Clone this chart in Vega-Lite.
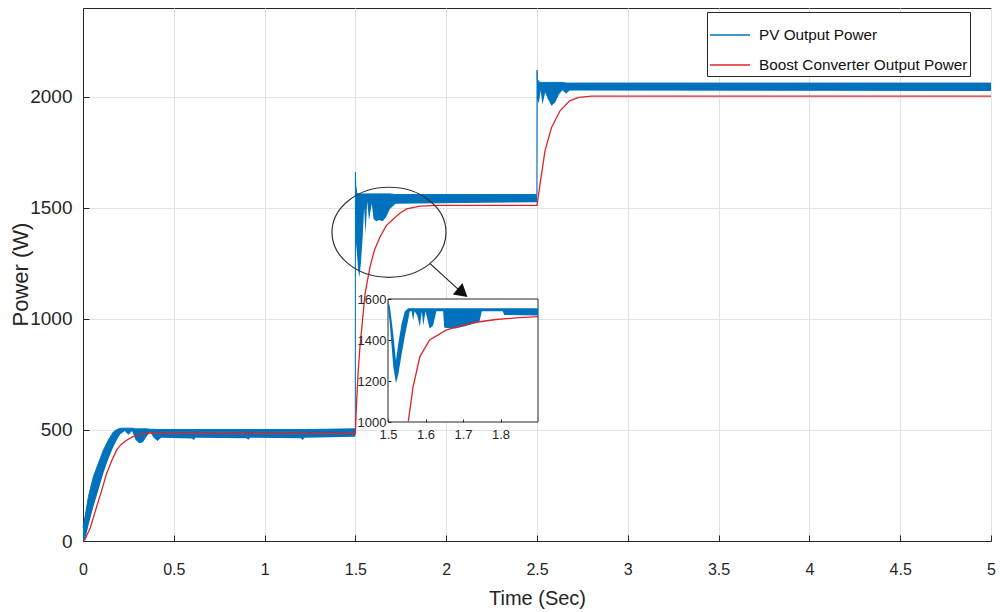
{
  "$schema": "https://vega.github.io/schema/vega-lite/v6.json",
  "width": 908,
  "height": 533,
  "autosize": "none",
  "padding": {"left": 83, "top": 8, "right": 9, "bottom": 71},
  "background": "white",
  "config": {
    "font": "Liberation Sans",
    "view": {"stroke": "#262626", "strokeWidth": 1},
    "axis": {
      "domainColor": "#262626",
      "tickColor": "#262626",
      "labelColor": "#262626",
      "titleColor": "#262626",
      "gridColor": "#e2e2e2",
      "labelFont": "Liberation Sans",
      "titleFont": "Liberation Sans",
      "titleFontWeight": "normal",
      "labelFlush": false
    }
  },
  "datasets": {
    "pv": [
      {"t": 0, "lo": 0, "hi": 60},
      {"t": 0.011, "lo": 5, "hi": 108},
      {"t": 0.03, "lo": 70, "hi": 200},
      {"t": 0.057, "lo": 154, "hi": 289},
      {"t": 0.085, "lo": 230, "hi": 350},
      {"t": 0.112, "lo": 305, "hi": 409},
      {"t": 0.14, "lo": 370, "hi": 455},
      {"t": 0.167, "lo": 424, "hi": 491},
      {"t": 0.19, "lo": 460, "hi": 503},
      {"t": 0.204, "lo": 480, "hi": 507},
      {"t": 0.23, "lo": 495, "hi": 508},
      {"t": 0.25, "lo": 478, "hi": 508},
      {"t": 0.27, "lo": 495, "hi": 508},
      {"t": 0.29, "lo": 455, "hi": 505},
      {"t": 0.31, "lo": 440, "hi": 505},
      {"t": 0.33, "lo": 445, "hi": 505},
      {"t": 0.35, "lo": 470, "hi": 505},
      {"t": 0.37, "lo": 490, "hi": 503},
      {"t": 0.39, "lo": 465, "hi": 503},
      {"t": 0.41, "lo": 450, "hi": 502},
      {"t": 0.43, "lo": 465, "hi": 502},
      {"t": 0.6, "lo": 462, "hi": 502},
      {"t": 0.61, "lo": 455, "hi": 502},
      {"t": 0.62, "lo": 465, "hi": 502},
      {"t": 0.9, "lo": 463, "hi": 502},
      {"t": 0.91, "lo": 456, "hi": 502},
      {"t": 0.92, "lo": 465, "hi": 502},
      {"t": 1.2, "lo": 463, "hi": 502},
      {"t": 1.21, "lo": 455, "hi": 502},
      {"t": 1.22, "lo": 465, "hi": 502},
      {"t": 1.4995, "lo": 469, "hi": 505},
      {"t": 1.5, "lo": 480, "hi": 1660},
      {"t": 1.502, "lo": 1350, "hi": 1600},
      {"t": 1.508, "lo": 1300, "hi": 1565},
      {"t": 1.515, "lo": 1220, "hi": 1563},
      {"t": 1.522, "lo": 1188, "hi": 1563},
      {"t": 1.53, "lo": 1250, "hi": 1563},
      {"t": 1.54, "lo": 1368, "hi": 1563},
      {"t": 1.548, "lo": 1500, "hi": 1563},
      {"t": 1.556, "lo": 1380, "hi": 1563},
      {"t": 1.565, "lo": 1530, "hi": 1563},
      {"t": 1.575, "lo": 1443, "hi": 1563},
      {"t": 1.59, "lo": 1520, "hi": 1563},
      {"t": 1.6, "lo": 1450, "hi": 1563},
      {"t": 1.615, "lo": 1440, "hi": 1563},
      {"t": 1.63, "lo": 1445, "hi": 1563},
      {"t": 1.65, "lo": 1440, "hi": 1563},
      {"t": 1.67, "lo": 1460, "hi": 1563},
      {"t": 1.69, "lo": 1495, "hi": 1563},
      {"t": 1.72, "lo": 1519, "hi": 1560},
      {"t": 2.4995, "lo": 1525, "hi": 1560},
      {"t": 2.5, "lo": 1530, "hi": 2120},
      {"t": 2.502, "lo": 1990, "hi": 2080},
      {"t": 2.51, "lo": 1970, "hi": 2068},
      {"t": 2.52, "lo": 2030, "hi": 2065},
      {"t": 2.53, "lo": 1965, "hi": 2065},
      {"t": 2.545, "lo": 2020, "hi": 2065},
      {"t": 2.56, "lo": 1990, "hi": 2065},
      {"t": 2.58, "lo": 1960, "hi": 2065},
      {"t": 2.6, "lo": 1975, "hi": 2065},
      {"t": 2.62, "lo": 2010, "hi": 2065},
      {"t": 2.64, "lo": 2030, "hi": 2065},
      {"t": 2.66, "lo": 2015, "hi": 2062},
      {"t": 2.68, "lo": 2028, "hi": 2062},
      {"t": 5, "lo": 2026, "hi": 2062}
    ],
    "boost": [
      {"t": 0, "p": 0},
      {"t": 0.01, "p": 5},
      {"t": 0.04, "p": 60},
      {"t": 0.075, "p": 154},
      {"t": 0.1, "p": 220},
      {"t": 0.13, "p": 304},
      {"t": 0.16, "p": 365},
      {"t": 0.185, "p": 409},
      {"t": 0.21, "p": 435},
      {"t": 0.24, "p": 454},
      {"t": 0.27, "p": 468},
      {"t": 0.295, "p": 476},
      {"t": 0.33, "p": 483},
      {"t": 0.37, "p": 487},
      {"t": 0.42, "p": 484},
      {"t": 1.5, "p": 484},
      {"t": 1.505, "p": 600},
      {"t": 1.515, "p": 760},
      {"t": 1.525, "p": 873},
      {"t": 1.54, "p": 1000},
      {"t": 1.553, "p": 1113},
      {"t": 1.58, "p": 1233},
      {"t": 1.605, "p": 1310},
      {"t": 1.635, "p": 1368},
      {"t": 1.67, "p": 1420},
      {"t": 1.709, "p": 1450},
      {"t": 1.745, "p": 1476},
      {"t": 1.782, "p": 1495},
      {"t": 1.856, "p": 1508},
      {"t": 1.95, "p": 1511},
      {"t": 2.5, "p": 1511},
      {"t": 2.517, "p": 1608},
      {"t": 2.544, "p": 1757},
      {"t": 2.58, "p": 1862},
      {"t": 2.627, "p": 1937},
      {"t": 2.68, "p": 1982},
      {"t": 2.73, "p": 1998},
      {"t": 2.8, "p": 2003},
      {"t": 5, "p": 2003}
    ],
    "pvInset": [
      {"t": 1.5, "lo": 1560, "hi": 1595},
      {"t": 1.5053, "lo": 1470, "hi": 1560},
      {"t": 1.514, "lo": 1270, "hi": 1430},
      {"t": 1.5212, "lo": 1190, "hi": 1300},
      {"t": 1.5274, "lo": 1230, "hi": 1380},
      {"t": 1.5363, "lo": 1330, "hi": 1480},
      {"t": 1.545, "lo": 1420, "hi": 1540},
      {"t": 1.554, "lo": 1500, "hi": 1555},
      {"t": 1.558, "lo": 1540, "hi": 1555},
      {"t": 1.563, "lo": 1540, "hi": 1555},
      {"t": 1.567, "lo": 1495, "hi": 1555},
      {"t": 1.571, "lo": 1540, "hi": 1555},
      {"t": 1.578, "lo": 1520, "hi": 1555},
      {"t": 1.585, "lo": 1465, "hi": 1555},
      {"t": 1.59, "lo": 1540, "hi": 1555},
      {"t": 1.594, "lo": 1470, "hi": 1555},
      {"t": 1.6, "lo": 1540, "hi": 1555},
      {"t": 1.611, "lo": 1456, "hi": 1555},
      {"t": 1.62, "lo": 1470, "hi": 1555},
      {"t": 1.629, "lo": 1540, "hi": 1555},
      {"t": 1.647, "lo": 1540, "hi": 1555},
      {"t": 1.65, "lo": 1460, "hi": 1555},
      {"t": 1.68, "lo": 1456, "hi": 1555},
      {"t": 1.71, "lo": 1470, "hi": 1555},
      {"t": 1.744, "lo": 1490, "hi": 1555},
      {"t": 1.75, "lo": 1540, "hi": 1555},
      {"t": 1.806, "lo": 1540, "hi": 1555},
      {"t": 1.81, "lo": 1522, "hi": 1555},
      {"t": 1.9, "lo": 1520, "hi": 1555}
    ],
    "boostInset": [
      {"t": 1.554, "p": 1002},
      {"t": 1.567, "p": 1172},
      {"t": 1.585, "p": 1319},
      {"t": 1.611, "p": 1400},
      {"t": 1.656, "p": 1449},
      {"t": 1.7, "p": 1473},
      {"t": 1.744, "p": 1489},
      {"t": 1.788, "p": 1500},
      {"t": 1.85, "p": 1509},
      {"t": 1.9, "p": 1514}
    ],
    "insetBox": [{"t": 1.5, "t2": 1.9, "p": 1000, "p2": 1600}],
    "ellipse": [{"t": 1.685, "p": 1390}],
    "arrow": [{"t": 1.911, "p": 1249, "t2": 2.1, "p2": 1108}],
    "arrowHead": [{"t": 2.09, "p": 1117}]
  },
  "layer": [
    {
      "layer": [
        {
          "data": {"name": "pv"},
          "mark": {"type": "area", "color": "#0072BD", "opacity": 1},
          "encoding": {
            "x": {
              "field": "t", "type": "quantitative",
              "scale": {"domain": [0, 5], "nice": false, "zero": false},
              "axis": {
                "values": [0, 0.5, 1, 1.5, 2, 2.5, 3, 3.5, 4, 4.5, 5],
                "format": "~g",
                "title": "Time (Sec)",
                "titleFontSize": 20,
                "titleX": 454,
                "titleY": 57,
                "titleBaseline": "middle",
                "labelFontSize": 16,
                "tickSize": -6,
                "labelPadding": 26,
                "grid": true
              }
            },
            "y": {
              "field": "lo", "type": "quantitative",
              "scale": {"domain": [0, 2400], "nice": false},
              "axis": {
                "values": [0, 500, 1000, 1500, 2000],
                "format": "d",
                "title": "Power (W)",
                "titleFontSize": 22,
                "titleX": -63,
                "titleY": 266,
                "titleBaseline": "middle",
                "labelFontSize": 19,
                "tickSize": -6,
                "labelPadding": 17,
                "grid": true
              }
            },
            "y2": {"field": "hi"}
          }
        },
        {
          "data": {"name": "pv"},
          "mark": {"type": "line", "strokeWidth": 1},
          "encoding": {
            "x": {"field": "t", "type": "quantitative"},
            "y": {"field": "hi", "type": "quantitative"},
            "stroke": {
              "datum": "PV Output Power",
              "type": "nominal",
              "scale": {
                "domain": ["PV Output Power", "Boost Converter Output Power"],
                "range": ["#0072BD", "#D9262B"]
              },
              "legend": {
                "orient": "none",
                "legendX": 624,
                "legendY": 4,
                "title": null,
                "fillColor": "white",
                "strokeColor": "#262626",
                "padding": 2,
                "symbolType": "stroke",
                "symbolSize": 1600,
                "symbolStrokeWidth": 1.5,
                "labelFontSize": 15.3,
                "labelFont": "Liberation Sans",
                "labelColor": "#111111",
                "labelLimit": 0,
                "labelOffset": 8,
                "rowPadding": 0
              }
            }
          }
        },
        {
          "data": {"name": "boost"},
          "mark": {"type": "line", "strokeWidth": 1.3},
          "encoding": {
            "x": {"field": "t", "type": "quantitative"},
            "y": {"field": "p", "type": "quantitative"},
            "stroke": {"datum": "Boost Converter Output Power", "type": "nominal"}
          }
        },
        {
          "data": {"name": "ellipse"},
          "mark": {
            "type": "point",
            "shape": "M-1,0C-1,-0.436,-0.552,-0.79,0,-0.79C0.552,-0.79,1,-0.436,1,0C1,0.436,0.552,0.79,0,0.79C-0.552,0.79,-1,0.436,-1,0Z",
            "size": 12996,
            "filled": false,
            "stroke": "#333333",
            "strokeWidth": 1.2,
            "opacity": 1
          },
          "encoding": {
            "x": {"field": "t", "type": "quantitative"},
            "y": {"field": "p", "type": "quantitative"}
          }
        },
        {
          "data": {"name": "arrow"},
          "mark": {"type": "rule", "color": "#222222", "strokeWidth": 1.2},
          "encoding": {
            "x": {"field": "t", "type": "quantitative"},
            "y": {"field": "p", "type": "quantitative"},
            "x2": {"field": "t2"},
            "y2": {"field": "p2"}
          }
        },
        {
          "data": {"name": "arrowHead"},
          "mark": {
            "type": "point",
            "shape": "triangle-right",
            "size": 220,
            "filled": true,
            "color": "#111111",
            "angle": 40,
            "opacity": 1
          },
          "encoding": {
            "x": {"field": "t", "type": "quantitative"},
            "y": {"field": "p", "type": "quantitative"}
          }
        }
      ]
    },
    {
      "layer": [
        {
          "data": {"name": "insetBox"},
          "mark": {"type": "rect", "fill": "white", "stroke": "#262626", "strokeWidth": 1},
          "encoding": {
            "x": {
              "field": "t", "type": "quantitative",
              "scale": {"domain": [1.5, 1.9], "range": [305, 455], "nice": false, "zero": false},
              "axis": {
                "orient": "bottom",
                "offset": -119,
                "values": [1.5, 1.6, 1.7, 1.8],
                "format": "~g",
                "title": null,
                "labelFontSize": 13,
                "labelFlush": false,
                "tickSize": -3,
                "labelPadding": 9,
                "grid": false,
                "domain": false,
                "zindex": 1
              }
            },
            "x2": {"field": "t2"},
            "y": {
              "field": "p", "type": "quantitative",
              "scale": {"domain": [1000, 1600], "range": [414, 291], "nice": false, "zero": false},
              "axis": {
                "orient": "left",
                "offset": -305,
                "values": [1000, 1200, 1400, 1600],
                "format": "d",
                "title": null,
                "labelFontSize": 13,
                "labelFlush": false,
                "tickSize": -3,
                "labelPadding": 5,
                "grid": false,
                "domain": false,
                "zindex": 1
              }
            },
            "y2": {"field": "p2"}
          }
        },
        {
          "data": {"name": "pvInset"},
          "mark": {"type": "area", "color": "#0072BD", "opacity": 1},
          "encoding": {
            "x": {"field": "t", "type": "quantitative"},
            "y": {"field": "lo", "type": "quantitative"},
            "y2": {"field": "hi"}
          }
        },
        {
          "data": {"name": "boostInset"},
          "mark": {"type": "line", "color": "#D9262B", "strokeWidth": 1.3},
          "encoding": {
            "x": {"field": "t", "type": "quantitative"},
            "y": {"field": "p", "type": "quantitative"}
          }
        }
      ]
    }
  ],
  "resolve": {
    "scale": {"x": "independent", "y": "independent"},
    "axis": {"x": "independent", "y": "independent"}
  }
}
